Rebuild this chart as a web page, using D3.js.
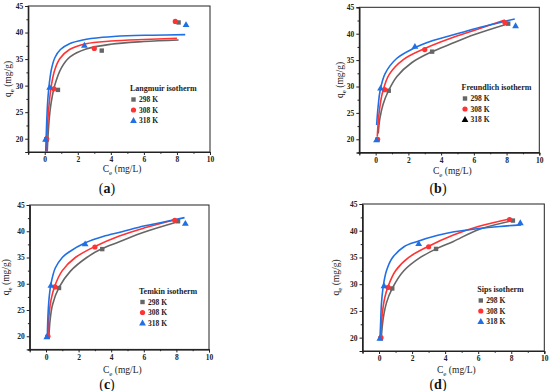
<!DOCTYPE html>
<html><head><meta charset="utf-8">
<script src="https://cdn.jsdelivr.net/npm/d3@7"></script>
<style>body{margin:0;background:#fff}svg{display:block}</style>
</head><body>
<svg id="c" width="550" height="391"></svg>
<script>
// ---- data ----
const xTicks = [0, 2, 4, 6, 8, 10];
const yTicks = [20, 25, 30, 35, 40, 45];
const temps = ["298 K", "308 K", "318 K"];
const panelLetters = ["a", "b", "c", "d"];
const modelNames = ["Langmuir isotherm", "Freundlich isotherm", "Temkin isotherm", "Sips isotherm"];

// experimental points
const ce298 = [0.1, 0.8, 3.45, 8.1];   const qe298 = [19.9, 29.2, 36.6, 41.9];
const ce308 = [0.12, 0.55, 3.0, 7.9];  const qe308 = [20.0, 29.4, 37.0, 42.1];
const ce318 = [0.05, 0.3, 2.4, 8.55];  const qe318 = [19.9, 29.7, 37.6, 41.5];

// fitted curves
const langC298 = [0.15, 0.2, 0.28, 0.4, 0.62, 1.0, 1.53, 2.5, 4.0, 6.0, 8.1];
const langQ298 = [17.5, 20.5, 24.0, 27.0, 30.2, 33.3, 35.4, 36.9, 37.8, 38.3, 38.6];
const langC308 = [0.1, 0.14, 0.2, 0.28, 0.4, 0.6, 0.92, 1.5, 2.5, 4.0, 6.0, 8.0];
const langQ308 = [17.5, 20.5, 24.0, 27.0, 30.0, 32.9, 35.1, 36.8, 37.9, 38.4, 38.7, 38.9];
const langC318 = [0.06, 0.09, 0.13, 0.19, 0.28, 0.42, 0.62, 0.95, 1.5, 2.3, 3.5, 5.0, 6.5, 8.5];
const langQ318 = [17.5, 20.5, 24.0, 27.5, 30.5, 33.3, 35.3, 36.8, 37.9, 38.6, 39.1, 39.4, 39.5, 39.6];

const freC298 = [0.16, 0.25, 0.45, 0.77, 1.3, 2.2, 3.45, 4.54, 6.0, 8.1];
const freQ298 = [21.1, 23.8, 26.6, 29.1, 31.9, 34.5, 36.6, 38.0, 39.8, 41.9];
const freC308 = [0.1, 0.15, 0.25, 0.43, 0.83, 1.69, 3.0, 4.54, 6.0, 7.9];
const freQ308 = [20.5, 23.0, 26.0, 29.0, 32.3, 35.1, 37.2, 39.1, 40.6, 42.6];
const freC318 = [0.06, 0.1, 0.16, 0.26, 0.57, 1.28, 2.3, 3.5, 4.54, 6.0, 7.3, 8.5];
const freQ318 = [22.7, 24.5, 26.5, 29.0, 32.4, 35.3, 37.2, 38.7, 39.6, 40.9, 41.9, 42.8];

const temC298 = [0.18, 0.25, 0.4, 0.8, 1.5, 2.5, 3.45, 4.5, 6.0, 8.1];
const temQ298 = [20.0, 23.0, 26.0, 29.3, 32.4, 35.0, 36.7, 38.0, 39.8, 41.8];
const temC308 = [0.12, 0.18, 0.3, 0.53, 1.0, 1.8, 3.0, 4.5, 6.0, 7.9];
const temQ308 = [20.0, 23.8, 26.8, 29.5, 32.5, 35.0, 37.1, 39.1, 40.6, 42.2];
const temC318 = [0.08, 0.13, 0.2, 0.3, 0.57, 1.0, 1.39, 2.41, 3.5, 4.66, 6.0, 7.3, 8.5];
const temQ318 = [20.0, 24.5, 27.6, 29.9, 33.0, 35.0, 36.0, 37.8, 39.0, 39.9, 41.0, 41.8, 42.6];

const sipC298 = [0.14, 0.25, 0.45, 0.8, 1.5, 2.5, 3.45, 4.5, 6.0, 8.1];
const sipQ298 = [20.0, 23.5, 26.5, 29.2, 32.5, 35.0, 36.6, 38.0, 40.2, 41.9];
const sipC308 = [0.1, 0.2, 0.35, 0.54, 1.0, 1.8, 3.0, 4.5, 6.0, 7.9];
const sipQ308 = [20.0, 24.5, 27.5, 29.5, 32.5, 35.0, 37.1, 39.2, 40.8, 42.2];
const sipC318 = [0.06, 0.1, 0.15, 0.26, 0.45, 0.8, 1.51, 2.32, 3.5, 4.54, 6.0, 7.3, 8.6];
const sipQ318 = [20.0, 23.0, 26.5, 29.7, 32.5, 34.9, 37.0, 38.0, 39.1, 39.8, 40.4, 40.8, 41.1];

// ---- layout / style ----
const colors = ["#666666", "#ff3333", "#1f6fe5"];
const panels = [
  {x0: 28.2, x1: 210, yT: 6, yB: 152, curves: [[langC298, langQ298], [langC308, langQ308], [langC318, langQ318]],
   leg: {x: 130, y: 91}, labX: 107, labY: 193, yLabX: 11, xLabY: 172, leg318: null},
  {x0: 359.3, x1: 539.3, yT: 7.3, yB: 152.5, curves: [[freC298, freQ298], [freC308, freQ308], [freC318, freQ318]],
   leg: {x: 461.5, y: 90}, labX: 438, labY: 193, yLabX: 343, xLabY: 174, leg318: "#000"},
  {x0: 29.7, x1: 209, yT: 205, yB: 349.4, curves: [[temC298, temQ298], [temC308, temQ308], [temC318, temQ318]],
   leg: {x: 139, y: 293.5}, labX: 107, labY: 389, yLabX: 9, xLabY: 373, leg318: null},
  {x0: 362.5, x1: 544.3, yT: 204, yB: 351, curves: [[sipC298, sipQ298], [sipC308, sipQ308], [sipC318, sipQ318]],
   leg: {x: 477.3, y: 292}, labX: 438, labY: 389, yLabX: 339, xLabY: 373, leg318: null}
];
const points = [[ce298, qe298], [ce308, qe308], [ce318, qe318]];
const FONT = "'Liberation Serif', 'DejaVu Serif', serif";

const svg = d3.select("#c");
const defs = svg.append("defs");

function marker(g, k, x, y, color) {
  if (k === 0) g.append("rect").attr("x", x - 2.2).attr("y", y - 2.2).attr("width", 4.4).attr("height", 4.4).attr("fill", color);
  else if (k === 1) g.append("circle").attr("cx", x).attr("cy", y).attr("r", 2.6).attr("fill", color);
  else g.append("path").attr("d", d3.symbol(d3.symbolTriangle, 20)()).attr("transform", `translate(${x},${y + 0.5})`).attr("fill", color);
}

panels.forEach((p, i) => {
  const x = d3.scaleLinear().domain([-1, 10]).range([p.x0, p.x1]);
  const y = d3.scaleLinear().domain([17.5, 45]).range([p.yB, p.yT]);
  const g = svg.append("g");

  defs.append("clipPath").attr("id", "clip" + i).append("rect")
    .attr("x", p.x0).attr("y", p.yT).attr("width", p.x1 - p.x0).attr("height", p.yB - p.yT);

  g.append("rect").attr("x", p.x0).attr("y", p.yT).attr("width", p.x1 - p.x0).attr("height", p.yB - p.yT)
    .attr("fill", "none").attr("stroke", "#222").attr("stroke-width", 1);

  const xa = g.append("g").attr("transform", `translate(0,${p.yB})`)
    .call(d3.axisBottom(x).tickValues(xTicks).tickSize(3).tickPadding(2).tickFormat(d3.format("d")));
  const xm = g.append("g").attr("transform", `translate(0,${p.yB})`)
    .call(d3.axisBottom(x).tickValues([-1, 1, 3, 5, 7, 9]).tickSize(1.8).tickFormat(""));
  const ya = g.append("g").attr("transform", `translate(${p.x0},0)`)
    .call(d3.axisLeft(y).tickValues(yTicks).tickSize(3).tickPadding(2).tickFormat(d3.format("d")));
  const ym = g.append("g").attr("transform", `translate(${p.x0},0)`)
    .call(d3.axisLeft(y).tickValues([17.5, 22.5, 27.5, 32.5, 37.5, 42.5]).tickSize(1.8).tickFormat(""));
  [xa, xm, ya, ym].forEach(a => {
    a.select(".domain").attr("stroke", "#222");
    a.selectAll("line").attr("stroke", "#222");
    a.selectAll("text").attr("font-family", FONT).attr("font-weight", "bold").attr("font-size", 7.5).attr("fill", "#222");
  });

  const line = d3.line().x(d => x(d[0])).y(d => y(d[1])).curve(d3.curveCatmullRom.alpha(0.5));
  const cg = g.append("g").attr("clip-path", `url(#clip${i})`);
  p.curves.forEach((c, k) => {
    const data = c[0].map((v, j) => [v, c[1][j]]);
    cg.append("path").attr("d", line(data)).attr("fill", "none").attr("stroke", colors[k]).attr("stroke-width", 1.6);
  });

  points.forEach((pt, k) => {
    pt[0].forEach((v, j) => marker(g, k, x(v), y(pt[1][j]), colors[k]));
  });

  g.append("text").attr("x", p.leg.x).attr("y", p.leg.y).text(modelNames[i])
    .attr("font-family", FONT).attr("font-weight", "bold").attr("font-size", 8).attr("fill", "#222");
  temps.forEach((t, k) => {
    const ly = p.leg.y + 11 + k * 10.5;
    const col = (k === 2 && p.leg318) ? p.leg318 : colors[k];
    marker(g, k, p.leg.x + 3.5, ly - 2.5, col);
    g.append("text").attr("x", p.leg.x + 9).attr("y", ly).text(t)
      .attr("font-family", FONT).attr("font-weight", "bold").attr("font-size", 7.5).attr("fill", "#222");
  });

  const xl = g.append("text").attr("x", (p.x0 + p.x1) / 2 + 3).attr("y", p.xLabY)
    .attr("text-anchor", "middle").attr("font-family", FONT).attr("font-size", 9.5).attr("fill", "#222");
  xl.append("tspan").text("C");
  xl.append("tspan").text("e").attr("font-size", 7).attr("dy", 2.5);
  xl.append("tspan").text(" (mg/L)").attr("dy", -2.5);

  const yc = (p.yT + p.yB) / 2;
  const yl = g.append("text").attr("transform", `translate(${p.yLabX},${yc}) rotate(-90)`)
    .attr("text-anchor", "middle").attr("font-family", FONT).attr("font-size", 9.5).attr("fill", "#222");
  yl.append("tspan").text("q");
  yl.append("tspan").text("e").attr("font-size", 7).attr("dy", 2.5);
  yl.append("tspan").text(" (mg/g)").attr("dy", -2.5);

  const lab = g.append("text").attr("x", p.labX).attr("y", p.labY).attr("text-anchor", "middle")
    .attr("font-family", FONT).attr("font-size", 14).attr("fill", "#111");
  lab.append("tspan").text("(");
  lab.append("tspan").attr("font-weight", "bold").text(panelLetters[i]);
  lab.append("tspan").text(")");
});
</script>
</body></html>
